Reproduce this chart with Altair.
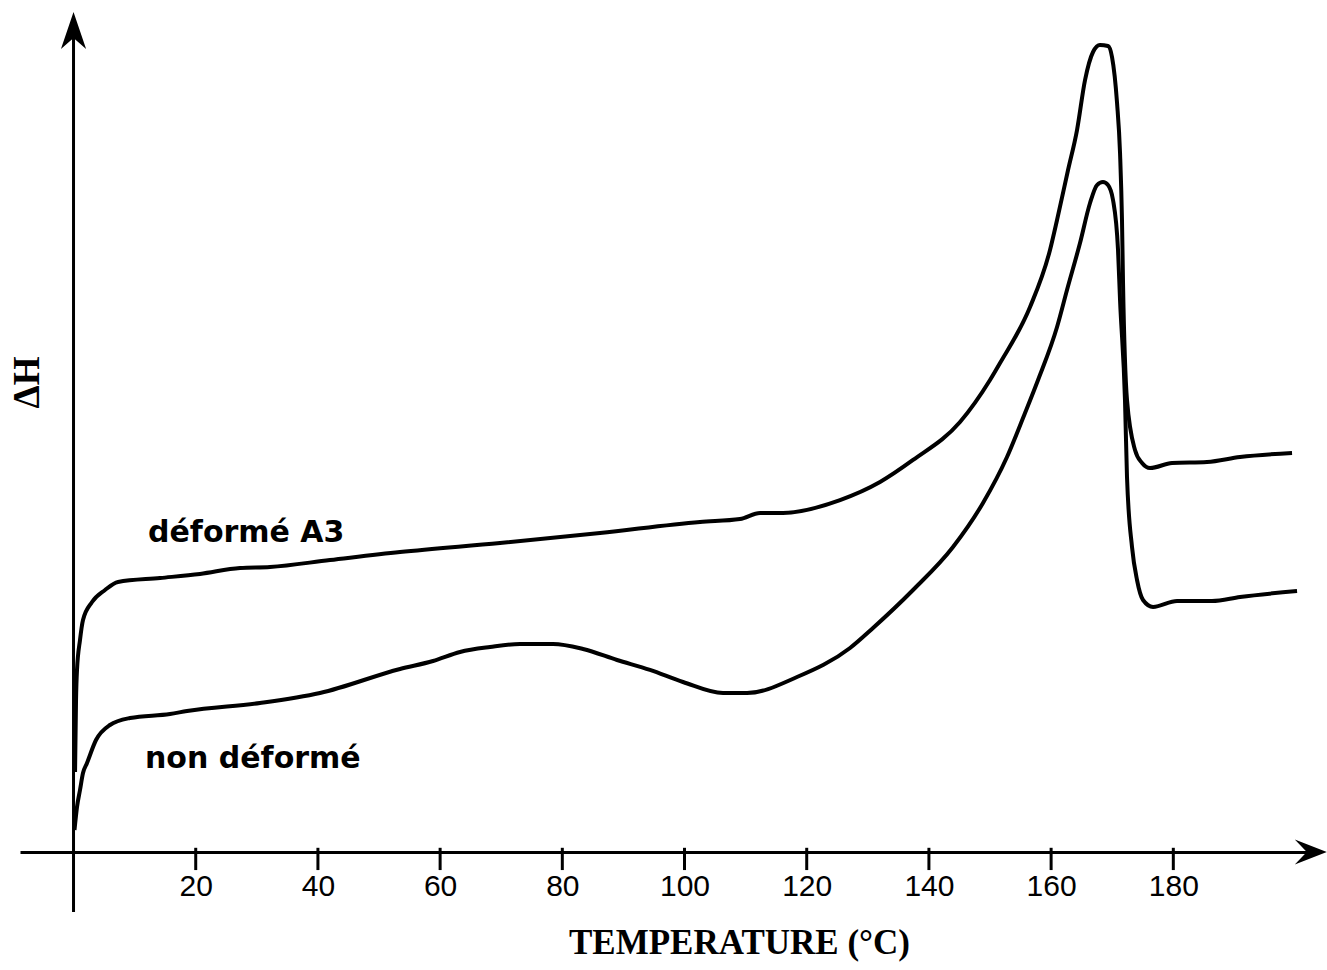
import altair as alt
import pandas as pd

# ---- values (temperature in °C, ΔH in arbitrary units) ----
t_deforme = [0.25, 0.41, 0.57, 1.06, 1.55, 3.03, 5.16, 7.28, 14.16, 20.70, 27.25, 32.16,
             41.98, 53.44, 69.80, 86.17, 102.54, 109.08, 112.36, 116.12, 125.45, 132.00,
             137.40, 145.09, 150.00, 151.64, 156.55, 159.82, 160.97, 162.77, 164.24,
             165.55, 166.86, 168.00, 169.31, 169.97, 170.79, 171.28, 171.60, 171.77,
             172.42, 173.73, 174.88, 176.19, 179.79, 185.52, 190.92, 199.43]
h_deforme = [9.52, 18.10, 21.67, 25.24, 27.62, 29.76, 31.19, 32.14, 32.62, 33.10, 33.81, 33.93,
             34.76, 35.71, 36.79, 37.98, 39.29, 39.64, 40.36, 40.36, 41.90, 44.05,
             46.67, 51.19, 56.19, 58.21, 64.88, 71.67, 75.24, 81.19, 85.95,
             91.90, 95.24, 96.07, 95.95, 94.64, 89.17, 83.21, 75.24, 67.74,
             53.81, 47.86, 46.31, 45.71, 46.31, 46.43, 47.02, 47.50]

t_non = [0.16, 0.57, 1.06, 1.55, 2.21, 3.68, 5.97, 9.25, 15.79, 18.58, 30.52, 40.34,
         53.44, 58.84, 63.26, 68.17, 73.08, 78.48, 83.39, 88.95, 94.35, 99.75, 106.30,
         110.23, 118.41, 127.09, 130.85, 137.40, 143.94, 148.85, 152.78, 155.73, 157.86,
         160.97, 162.60, 164.73, 166.37, 167.51, 168.49, 169.31, 170.13, 170.95, 171.28,
         172.09, 172.42, 173.24, 174.06, 175.04, 176.68, 180.61, 186.33, 190.92, 200.25]
h_non = [2.62, 5.36, 7.38, 9.40, 10.60, 13.33, 15.12, 15.95, 16.43, 16.79, 17.74, 18.93,
         21.79, 22.74, 23.81, 24.40, 24.76, 24.76, 24.17, 22.86, 21.67, 20.24, 18.93,
         18.93, 20.83, 24.29, 26.67, 31.19, 36.31, 41.55, 47.02, 52.26, 56.19,
         62.50, 66.90, 72.50, 77.26, 79.40, 79.76, 79.40, 77.62, 71.67, 65.71,
         53.81, 44.64, 36.31, 32.38, 30.00, 29.17, 29.88, 29.88, 30.36, 31.07]

series_names = ["déformé A3", "non déformé"]
label_t = [12.19, 11.70]
label_h = [36.9, 10.0]

x_ticks = [20, 40, 60, 80, 100, 120, 140, 160, 180]
x_domain = [-8.76, 201.88]
y_domain = [0, 100]

# axis line ends, tick extent and arrow heads (data units)
y_axis_from = -7.14
y_axis_to = 96.9
y_arrow_at = 97.8
x_arrow_at = 202.5
tick_top = 0.5
tick_bottom = -2.15

# ---- tables ----
curves = pd.concat([
    pd.DataFrame({"T": t_deforme, "H": h_deforme, "serie": series_names[0],
                  "ordre": range(len(t_deforme))}),
    pd.DataFrame({"T": t_non, "H": h_non, "serie": series_names[1],
                  "ordre": range(len(t_non))}),
])
labels = pd.DataFrame({"T": label_t, "H": label_h, "txt": series_names})
yline = pd.DataFrame({"T": [0], "H": [y_axis_from], "H2": [y_axis_to]})
ticks = pd.DataFrame({"T": x_ticks, "H": [tick_bottom] * len(x_ticks),
                      "H2": [tick_top] * len(x_ticks)})
up_arrow = pd.DataFrame({"T": [0], "H": [y_arrow_at]})
right_arrow = pd.DataFrame({"T": [x_arrow_at], "H": [0]})

xs = alt.Scale(domain=x_domain, nice=False, zero=False)
ys = alt.Scale(domain=y_domain, nice=False, zero=False)

x_axis = alt.Axis(
    values=x_ticks, grid=False, ticks=False,
    domainColor="black", domainWidth=3,
    labelFont="Liberation Sans", labelFontSize=30, labelColor="black", labelPadding=19,
    titleFont="Liberation Serif", titleFontWeight="bold",
    titleFontSize=35, titleColor="black", titleX=719, titleY=101,
    titleAlign="center", titleBaseline="alphabetic",
)
y_axis = alt.Axis(
    grid=False, labels=False, ticks=False, domain=False,
    titleFont="Liberation Serif", titleFontWeight="bold",
    titleFontSize=37, titleColor="black", titleAngle=270,
    titleX=7, titleY=370, titleAlign="center", titleBaseline="middle",
)

X = alt.X("T:Q", scale=xs, axis=x_axis, title="TEMPERATURE (°C)")
Y = alt.Y("H:Q", scale=ys, axis=y_axis, title="ΔH")

lines = alt.Chart(curves).mark_line(
    color="black", strokeWidth=4, interpolate="monotone"
).encode(x=X, y=Y, detail="serie:N", order="ordre:Q")

yrule = alt.Chart(yline).mark_rule(color="black", strokeWidth=3).encode(
    x=X, y=Y, y2="H2:Q"
)

tick_rules = alt.Chart(ticks).mark_rule(color="black", strokeWidth=3).encode(
    x=X, y=Y, y2="H2:Q"
)

up_shape = "M 0 -1 L 0.68 1 L 0 0.4 L -0.68 1 Z"
right_shape = "M 1 0 L -1 -0.78 L -0.25 0 L -1 0.78 Z"

up = alt.Chart(up_arrow).mark_point(
    shape=up_shape, filled=True, size=1369, color="black", opacity=1
).encode(x=X, y=Y)

right = alt.Chart(right_arrow).mark_point(
    shape=right_shape, filled=True, size=1024, color="black", opacity=1
).encode(x=X, y=Y)

texts = alt.Chart(labels).mark_text(
    align="left", baseline="alphabetic", font="DejaVu Sans", fontWeight="bold",
    fontSize=30, color="black"
).encode(x=X, y=Y, text="txt:N")

chart = alt.layer(lines, yrule, tick_rules, up, right, texts).properties(
    width=1287, height=840,
    padding={"left": 20, "top": 12, "right": 20, "bottom": 118},
    autosize=alt.AutoSizeParams(type="none"),
    background="white",
).configure_view(stroke=None)

chart.save("out.html", embed_options={"renderer": "svg", "actions": False})
